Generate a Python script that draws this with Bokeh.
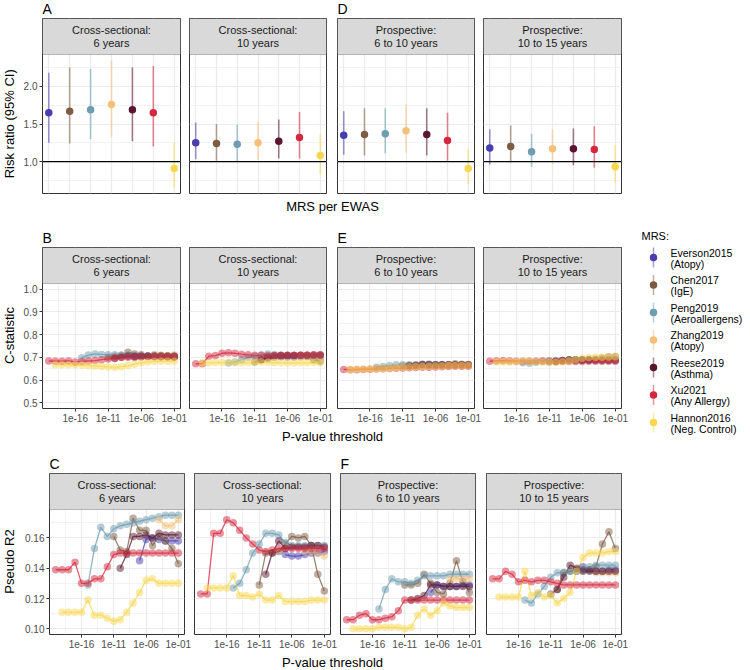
import math
from bokeh.plotting import figure
from bokeh.layouts import row, column
from bokeh.models import FixedTicker, BoxAnnotation, Label, Span, Range1d, PrintfTickFormatter
from bokeh.embed import file_html
from bokeh.resources import INLINE
from bokeh.core.properties import value

FONT = "Liberation Sans"

# ---------------- data ----------------
MRS = ["Everson2015", "Chen2017", "Peng2019", "Zhang2019", "Reese2019", "Xu2021", "Hannon2016"]
MRS_DESC = ["(Atopy)", "(IgE)", "(Aeroallergens)", "(Atopy)", "(Asthma)", "(Any Allergy)", "(Neg. Control)"]
COLORS = ["#4A3DAE", "#7E5C43", "#6E9CB0", "#F4C07A", "#5A1530", "#D4283E", "#F8D750"]

PANEL_TITLES = [("Cross-sectional:", "6 years"), ("Cross-sectional:", "10 years"),
                ("Prospective:", "6 to 10 years"), ("Prospective:", "10 to 15 years")]

LOG10_P_THRESHOLDS = list(range(-20, 0))
P_TICKS = [-16, -11, -6, -1]
P_TICK_LABELS = ["1e-16", "1e-11", "1e-06", "1e-01"]

# Risk ratios (estimate, lower, upper) per panel, in MRS order
RR_CS6_EST = [1.65, 1.67, 1.69, 1.76, 1.69, 1.65, 0.91]
RR_CS6_LO = [1.25, 1.24, 1.30, 1.33, 1.27, 1.20, 0.66]
RR_CS6_HI = [2.18, 2.25, 2.23, 2.34, 2.25, 2.27, 1.25]
RR_CS10_EST = [1.25, 1.24, 1.23, 1.25, 1.27, 1.32, 1.08]
RR_CS10_LO = [1.03, 1.01, 1.00, 1.02, 1.04, 1.04, 0.83]
RR_CS10_HI = [1.52, 1.50, 1.49, 1.53, 1.56, 1.66, 1.36]
RR_P610_EST = [1.35, 1.36, 1.37, 1.41, 1.36, 1.28, 0.91]
RR_P610_LO = [1.09, 1.08, 1.11, 1.12, 1.08, 1.01, 0.70]
RR_P610_HI = [1.67, 1.71, 1.71, 1.76, 1.71, 1.65, 1.16]
RR_P1015_EST = [1.18, 1.20, 1.13, 1.17, 1.17, 1.16, 0.93]
RR_P1015_LO = [0.96, 0.99, 0.93, 0.96, 0.95, 0.92, 0.72]
RR_P1015_HI = [1.43, 1.48, 1.37, 1.43, 1.44, 1.47, 1.22]

# C-statistic per p-value threshold (each series ends at 1e-01)
CSTAT_CS6 = {
    "Everson2015": [0.700, 0.703, 0.705, 0.704, 0.703, 0.703, 0.703],
    "Chen2017": [0.700, 0.705, 0.708, 0.722, 0.715, 0.712, 0.705, 0.710, 0.708, 0.705, 0.700],
    "Peng2019": [0.698, 0.710, 0.715, 0.713, 0.712, 0.711, 0.710, 0.709, 0.708, 0.707, 0.706, 0.706, 0.705, 0.705, 0.705],
    "Zhang2019": [0.712, 0.710, 0.708, 0.712],
    "Reese2019": [0.695, 0.700, 0.705, 0.705, 0.705, 0.706, 0.706, 0.706, 0.706, 0.706],
    "Xu2021": [0.684, 0.683, 0.683, 0.684, 0.680, 0.682, 0.684, 0.686, 0.690, 0.693, 0.697, 0.700, 0.701, 0.702, 0.703, 0.703, 0.703, 0.703, 0.703, 0.703],
    "Hannon2016": [0.668, 0.668, 0.667, 0.667, 0.666, 0.664, 0.662, 0.660, 0.658, 0.657, 0.659, 0.664, 0.670, 0.676, 0.680, 0.682, 0.683, 0.683, 0.683],
}
CSTAT_CS10 = {
    "Everson2015": [0.703, 0.702, 0.702, 0.703, 0.704, 0.704, 0.705],
    "Chen2017": [0.680, 0.690, 0.695, 0.700, 0.705, 0.708, 0.708, 0.708, 0.705, 0.690, 0.683],
    "Peng2019": [0.675, 0.680, 0.690, 0.700, 0.705, 0.712, 0.715, 0.713, 0.710, 0.708, 0.707, 0.707, 0.707, 0.707, 0.707],
    "Zhang2019": [0.705, 0.705, 0.704, 0.700],
    "Reese2019": [0.690, 0.700, 0.707, 0.708, 0.708, 0.708, 0.709, 0.709, 0.710, 0.710],
    "Xu2021": [0.672, 0.672, 0.705, 0.708, 0.718, 0.720, 0.718, 0.714, 0.711, 0.709, 0.708, 0.708, 0.708, 0.708, 0.709, 0.709, 0.709, 0.710, 0.711, 0.711],
    "Hannon2016": [0.676, 0.676, 0.677, 0.677, 0.678, 0.676, 0.676, 0.677, 0.678, 0.680, 0.678, 0.677, 0.676, 0.676, 0.676, 0.676, 0.676, 0.677, 0.676],
}
CSTAT_P610 = {
    "Everson2015": [0.664, 0.666, 0.666, 0.665, 0.665, 0.666, 0.666],
    "Chen2017": [0.662, 0.664, 0.665, 0.668, 0.667, 0.666, 0.667, 0.668, 0.672, 0.670, 0.668],
    "Peng2019": [0.656, 0.660, 0.664, 0.667, 0.668, 0.668, 0.667, 0.667, 0.668, 0.668, 0.668, 0.669, 0.669, 0.668, 0.668],
    "Zhang2019": [0.667, 0.668, 0.668, 0.668],
    "Reese2019": [0.662, 0.664, 0.670, 0.670, 0.668, 0.668, 0.667, 0.667, 0.667, 0.667],
    "Xu2021": [0.647, 0.645, 0.646, 0.647, 0.648, 0.649, 0.650, 0.651, 0.652, 0.653, 0.654, 0.655, 0.656, 0.657, 0.658, 0.659, 0.660, 0.661, 0.661, 0.661],
    "Hannon2016": [0.647, 0.648, 0.648, 0.649, 0.650, 0.651, 0.652, 0.654, 0.656, 0.658, 0.659, 0.660, 0.661, 0.662, 0.662, 0.663, 0.663, 0.663, 0.663],
}
CSTAT_P1015 = {
    "Everson2015": [0.687, 0.690, 0.689, 0.688, 0.688, 0.688, 0.688],
    "Chen2017": [0.680, 0.682, 0.686, 0.688, 0.689, 0.690, 0.690, 0.692, 0.697, 0.703, 0.704],
    "Peng2019": [0.676, 0.674, 0.678, 0.682, 0.685, 0.686, 0.687, 0.687, 0.688, 0.688, 0.689, 0.690, 0.690, 0.690, 0.690],
    "Zhang2019": [0.688, 0.688, 0.688, 0.688],
    "Reese2019": [0.682, 0.685, 0.689, 0.688, 0.687, 0.687, 0.687, 0.687, 0.687, 0.687],
    "Xu2021": [0.683, 0.684, 0.685, 0.684, 0.683, 0.683, 0.683, 0.683, 0.684, 0.683, 0.683, 0.683, 0.682, 0.682, 0.682, 0.683, 0.683, 0.683, 0.683, 0.683],
    "Hannon2016": [0.680, 0.680, 0.680, 0.681, 0.684, 0.681, 0.681, 0.680, 0.680, 0.679, 0.680, 0.684, 0.690, 0.696, 0.699, 0.700, 0.701, 0.702, 0.703],
}

# Pseudo R2 per p-value threshold
R2_CS6 = {
    "Everson2015": [0.145, 0.159, 0.160, 0.159, 0.158, 0.158, 0.158],
    "Chen2017": [0.161, 0.152, 0.151, 0.173, 0.165, 0.165, 0.155, 0.161, 0.158, 0.153, 0.143],
    "Peng2019": [0.129, 0.153, 0.167, 0.161, 0.166, 0.168, 0.169, 0.170, 0.171, 0.172, 0.173, 0.174, 0.175, 0.175, 0.175],
    "Zhang2019": [0.172, 0.168, 0.168, 0.172],
    "Reese2019": [0.140, 0.149, 0.161, 0.161, 0.162, 0.160, 0.163, 0.162, 0.162, 0.162],
    "Xu2021": [0.139, 0.139, 0.139, 0.144, 0.130, 0.130, 0.133, 0.133, 0.141, 0.149, 0.150, 0.150, 0.150, 0.150, 0.150, 0.150, 0.150, 0.150, 0.150, 0.150],
    "Hannon2016": [0.111, 0.111, 0.111, 0.111, 0.119, 0.109, 0.109, 0.107, 0.105, 0.106, 0.111, 0.117, 0.124, 0.132, 0.133, 0.130, 0.130, 0.130, 0.130],
}
R2_CS10 = {
    "Everson2015": [0.149, 0.148, 0.148, 0.149, 0.150, 0.150, 0.151],
    "Chen2017": [0.129, 0.150, 0.150, 0.151, 0.156, 0.161, 0.160, 0.161, 0.155, 0.136, 0.125],
    "Peng2019": [0.127, 0.130, 0.139, 0.150, 0.156, 0.163, 0.163, 0.162, 0.157, 0.155, 0.155, 0.155, 0.155, 0.155, 0.155],
    "Zhang2019": [0.151, 0.151, 0.150, 0.148],
    "Reese2019": [0.136, 0.150, 0.158, 0.153, 0.154, 0.154, 0.154, 0.155, 0.155, 0.154],
    "Xu2021": [0.123, 0.123, 0.163, 0.163, 0.172, 0.170, 0.165, 0.160, 0.156, 0.152, 0.151, 0.152, 0.153, 0.153, 0.153, 0.153, 0.153, 0.153, 0.153, 0.153],
    "Hannon2016": [0.127, 0.127, 0.127, 0.127, 0.135, 0.122, 0.122, 0.121, 0.123, 0.119, 0.119, 0.122, 0.118, 0.118, 0.118, 0.118, 0.119, 0.119, 0.119],
}
R2_P610 = {
    "Everson2015": [0.124, 0.129, 0.128, 0.128, 0.128, 0.129, 0.129],
    "Chen2017": [0.129, 0.129, 0.130, 0.136, 0.130, 0.124, 0.123, 0.130, 0.145, 0.131, 0.124],
    "Peng2019": [0.113, 0.126, 0.133, 0.131, 0.131, 0.130, 0.132, 0.135, 0.135, 0.135, 0.135, 0.136, 0.136, 0.136, 0.136],
    "Zhang2019": [0.133, 0.133, 0.133, 0.133],
    "Reese2019": [0.119, 0.120, 0.122, 0.129, 0.129, 0.128, 0.128, 0.128, 0.128, 0.128],
    "Xu2021": [0.106, 0.106, 0.109, 0.110, 0.106, 0.106, 0.107, 0.108, 0.112, 0.119, 0.119, 0.119, 0.119, 0.119, 0.119, 0.119, 0.119, 0.119, 0.119, 0.119],
    "Hannon2016": [0.100, 0.100, 0.100, 0.100, 0.101, 0.101, 0.101, 0.101, 0.100, 0.101, 0.109, 0.113, 0.109, 0.112, 0.117, 0.115, 0.114, 0.114, 0.114],
}
R2_P1015 = {
    "Everson2015": [0.138, 0.141, 0.139, 0.138, 0.138, 0.139, 0.139],
    "Chen2017": [0.123, 0.126, 0.137, 0.138, 0.139, 0.139, 0.139, 0.141, 0.156, 0.164, 0.153],
    "Peng2019": [0.119, 0.117, 0.123, 0.128, 0.134, 0.137, 0.137, 0.138, 0.138, 0.139, 0.141, 0.142, 0.142, 0.142, 0.142],
    "Zhang2019": [0.137, 0.137, 0.137, 0.137],
    "Reese2019": [0.126, 0.134, 0.142, 0.140, 0.138, 0.138, 0.138, 0.138, 0.138, 0.138],
    "Xu2021": [0.133, 0.133, 0.138, 0.136, 0.131, 0.132, 0.131, 0.132, 0.132, 0.131, 0.130, 0.129, 0.129, 0.129, 0.129, 0.129, 0.129, 0.129, 0.129, 0.129],
    "Hannon2016": [0.121, 0.121, 0.121, 0.121, 0.138, 0.122, 0.124, 0.121, 0.122, 0.117, 0.120, 0.124, 0.138, 0.147, 0.150, 0.150, 0.150, 0.151, 0.151],
}

RR_PANELS = [(RR_CS6_EST, RR_CS6_LO, RR_CS6_HI), (RR_CS10_EST, RR_CS10_LO, RR_CS10_HI),
             (RR_P610_EST, RR_P610_LO, RR_P610_HI), (RR_P1015_EST, RR_P1015_LO, RR_P1015_HI)]
CSTAT_PANELS = [CSTAT_CS6, CSTAT_CS10, CSTAT_P610, CSTAT_P1015]
R2_PANELS = [R2_CS6, R2_CS10, R2_P610, R2_P1015]

# ---------------- layout constants ----------------
STRIP_H = 36
GRID = "#EBEBEB"
DARK = "#333333"
TOTAL_W = 629
YLAB_W = 18
RB = 8  # right border of each panel canvas (room for overhanging tick labels)

# (left border, frame width) of the four panels in each row
GEOM_AB = [(24, 138), (1, 137), (3, 137), (1, 138)]
GEOM_C = [(31, 135), (2, 136), (2, 135), (3, 135)]


def style_axis(ax):
    ax.axis_line_color = None
    ax.major_tick_line_color = DARK
    ax.major_tick_line_width = 1
    ax.major_tick_in = 0
    ax.major_tick_out = 3
    ax.minor_tick_in = 0
    ax.minor_tick_out = 0
    ax.major_label_text_font = FONT
    ax.major_label_text_font_size = "10px"
    ax.major_label_text_color = "#4D4D4D"
    ax.major_label_standoff = 2


def make_panel(k, geom, panel_h, bottom, xr, yr, xticks, xminor, yticks, yminor, yfmt, show_x):
    left, frame_w = geom
    upp = (yr[1] - yr[0]) / panel_h
    y_top = yr[1] + STRIP_H * upp
    width = left + frame_w + RB
    height = 1 + STRIP_H + panel_h + bottom
    p = figure(width=width, height=height, x_range=Range1d(*xr), y_range=Range1d(yr[0], y_top),
               output_backend="svg", toolbar_location=None, title=None,
               x_axis_location="below" if show_x else None,
               y_axis_location="left" if k == 0 else None,
               min_border_left=left, min_border_right=RB, min_border_top=1, min_border_bottom=bottom)
    p.outline_line_color = DARK
    p.outline_line_width = 1
    p.background_fill_color = "white"
    p.border_fill_color = "white"
    p.xgrid.ticker = FixedTicker(ticks=xticks, minor_ticks=xminor)
    p.ygrid.ticker = FixedTicker(ticks=yticks, minor_ticks=yminor)
    for g in list(p.xgrid) + list(p.ygrid):
        g.grid_line_color = GRID
        g.grid_line_width = 1.2
        g.minor_grid_line_color = GRID
        g.minor_grid_line_width = 0.6
    if k == 0:
        ax = p.yaxis[0]
        ax.ticker = FixedTicker(ticks=yticks)
        ax.formatter = PrintfTickFormatter(format=yfmt)
        style_axis(ax)
    if show_x:
        ax = p.xaxis[0]
        ax.ticker = FixedTicker(ticks=xticks)
        ax.major_label_overrides = {t: l for t, l in zip(P_TICKS, P_TICK_LABELS)}
        style_axis(ax)
    # facet strip
    p.add_layout(BoxAnnotation(bottom=yr[1], fill_color="#D9D9D9", fill_alpha=1.0,
                               line_color=DARK, line_width=1))
    yc = yr[1] + STRIP_H * upp / 2
    xc = (xr[0] + xr[1]) / 2
    for j, t in enumerate(PANEL_TITLES[k]):
        off = 6.3 if j == 0 else -6.3
        p.add_layout(Label(x=xc, y=yc + off * upp, text=t, text_align="center", text_baseline="middle",
                           text_font=FONT, text_font_size="11px", text_color="#1A1A1A"))
    return p


def make_text_fig(width, height, items):
    p = figure(width=width, height=height, x_range=Range1d(0, width), y_range=Range1d(0, height),
               x_axis_location=None, y_axis_location=None, min_border=0, title=None,
               output_backend="svg", toolbar_location=None)
    p.outline_line_color = None
    p.grid.visible = False
    for (x, y, t, size, align, baseline, angle) in items:
        p.text(x=[x], y=[y], text=[t], angle=angle, text_align=align, text_baseline=baseline,
               text_font=value(FONT), text_font_size=value(size), text_color="black")
    return p


def ylab_fig(text, height, bottom, panel_h):
    return make_text_fig(YLAB_W, height, [(9, bottom + panel_h / 2, text, "13px", "center", "middle", math.pi / 2)])


# ---------------- row A: risk ratios ----------------
all_lo = min(min(v[1]) for v in RR_PANELS)
all_hi = max(max(v[2]) for v in RR_PANELS)
pad = 0.05 * (all_hi - all_lo)
YR_A = (all_lo - pad, all_hi + pad)
XR_A = (0.7, 7.3)

PANEL_H_A = 139
rowA_figs = []
for k in range(4):
    p = make_panel(k, GEOM_AB[k], PANEL_H_A, 1, XR_A, YR_A, list(range(1, 8)), [],
                   [1.0, 1.5, 2.0], [0.75, 1.25, 1.75, 2.25], "%.1f", False)
    est, lo, hi = RR_PANELS[k]
    xs = list(range(1, len(MRS) + 1))
    p.add_layout(Span(location=1.0, dimension="width", line_color="black", line_width=1.4, level="glyph"))
    p.segment(x0=xs, y0=lo, x1=xs, y1=hi, line_color=COLORS, line_alpha=0.55, line_width=1.6)
    p.scatter(x=xs, y=est, size=7.5, fill_color=COLORS, line_color=None)
    rowA_figs.append(p)
hA = 1 + STRIP_H + PANEL_H_A + 1
rowA = row(ylab_fig("Risk ratio (95% CI)", hA, 1, PANEL_H_A), *rowA_figs)

# ---------------- rows B and C: threshold curves ----------------
XR_P = (-20.95, -0.05)
XMINOR = [-18.5, -13.5, -8.5, -3.5]


def series_panel(k, geom, panel_h, yr, yticks, yminor, yfmt, data):
    p = make_panel(k, geom, panel_h, 20, XR_P, yr, P_TICKS, XMINOR, yticks, yminor, yfmt, True)
    for i, name in enumerate(MRS):
        vals = data[name]
        xs = LOG10_P_THRESHOLDS[-len(vals):]
        p.line(xs, vals, line_color=COLORS[i], line_width=1.3, line_alpha=0.75)
    for i, name in enumerate(MRS):
        vals = data[name]
        xs = LOG10_P_THRESHOLDS[-len(vals):]
        p.scatter(xs, vals, size=7.5, fill_color=COLORS[i], fill_alpha=0.5, line_color=None)
    return p


YR_B = (0.5 - 0.025, 1.0 + 0.025)
PANEL_H_B = 125
rowB_figs = [series_panel(k, GEOM_AB[k], PANEL_H_B, YR_B,
                          [0.5, 0.6, 0.7, 0.8, 0.9, 1.0], [0.55, 0.65, 0.75, 0.85, 0.95], "%.1f",
                          CSTAT_PANELS[k]) for k in range(4)]
hB = 1 + STRIP_H + PANEL_H_B + 20
rowB = row(ylab_fig("C-statistic", hB, 20, PANEL_H_B), *rowB_figs)

r2_lo = min(min(v) for d in R2_PANELS for v in d.values())
r2_hi = max(max(v) for d in R2_PANELS for v in d.values())
pad = 0.05 * (r2_hi - r2_lo)
YR_C = (r2_lo - pad, r2_hi + pad)
PANEL_H_C = 125
rowC_figs = [series_panel(k, GEOM_C[k], PANEL_H_C, YR_C,
                          [0.10, 0.12, 0.14, 0.16], [0.11, 0.13, 0.15, 0.17], "%.2f",
                          R2_PANELS[k]) for k in range(4)]
hC = 1 + STRIP_H + PANEL_H_C + 20
rowC = row(ylab_fig("Pseudo R2", hC, 20, PANEL_H_C), *rowC_figs)

# ---------------- headers / footers ----------------
headerA = make_text_fig(TOTAL_W, 17, [(42, 8.5, "A", "14px", "left", "middle", 0),
                                      (337, 8.5, "D", "14px", "left", "middle", 0)])
footerA = make_text_fig(TOTAL_W, 22, [(332, 10, "MRS per EWAS", "13px", "center", "middle", 0)])
headerB = make_text_fig(TOTAL_W, 30, [(42, 9, "B", "14px", "left", "middle", 0),
                                      (337, 9, "E", "14px", "left", "middle", 0)])
footerB = make_text_fig(TOTAL_W, 17, [(332, 9, "P-value threshold", "13px", "center", "middle", 0)])
headerC = make_text_fig(TOTAL_W, 27, [(49, 9, "C", "14px", "left", "middle", 0),
                                      (340, 9, "F", "14px", "left", "middle", 0)])
footerC = make_text_fig(TOTAL_W, 15, [(332, 7.5, "P-value threshold", "13px", "center", "middle", 0)])

left_col = column(headerA, rowA, footerA, headerB, rowB, footerB, headerC, rowC, footerC)

# ---------------- legend ----------------
LEG_W, LEG_H = 121, 669
leg = figure(width=LEG_W, height=LEG_H, x_range=Range1d(0, LEG_W), y_range=Range1d(LEG_H, 0),
             x_axis_location=None, y_axis_location=None, min_border=0, title=None,
             output_backend="svg", toolbar_location=None)
leg.outline_line_color = None
leg.grid.visible = False
key_y = [257 + 27.5 * i for i in range(len(MRS))]
key_x = [24] * len(MRS)
leg.segment(x0=key_x, y0=[y - 10 for y in key_y], x1=key_x, y1=[y + 10 for y in key_y],
            line_color=COLORS, line_alpha=0.5, line_width=1.5)
leg.scatter(x=key_x, y=key_y, size=7.5, fill_color=COLORS, line_color=None)
leg.text(x=[41] * len(MRS), y=[y - 5 for y in key_y], text=MRS, text_baseline="middle",
         text_font=value(FONT), text_font_size=value("10.5px"), text_color="black")
leg.text(x=[41] * len(MRS), y=[y + 6 for y in key_y], text=MRS_DESC, text_baseline="middle",
         text_font=value(FONT), text_font_size=value("10.5px"), text_color="black")
leg.text(x=[12], y=[235], text=["MRS:"], text_baseline="middle",
         text_font=value(FONT), text_font_size=value("11px"), text_color="black")

layout = row(left_col, leg)
open("out.html", "w").write(file_html(layout, INLINE))
